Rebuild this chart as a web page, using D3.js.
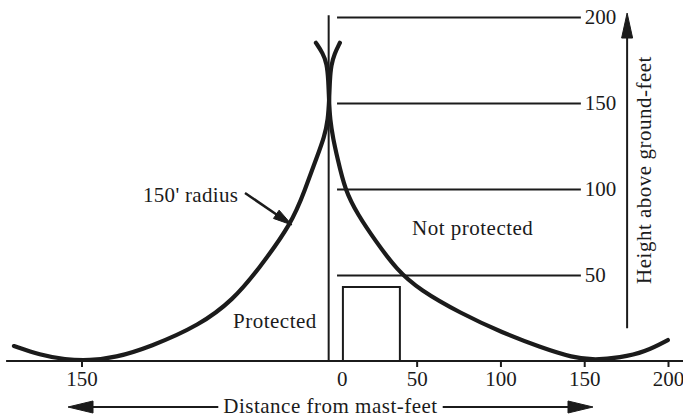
<!DOCTYPE html>
<html><head><meta charset="utf-8">
<script src="https://cdn.jsdelivr.net/npm/d3@7"></script>
<style>
html,body{margin:0;padding:0;background:#fff;}
svg{display:block;}
text{font-family:"Liberation Serif","Times New Roman",serif;}
</style>
</head><body>
<svg id="c" width="683" height="419"></svg>
<script>
// ---- data (feet) ----
const xTickValues = [-150, 0, 50, 100, 150, 200];
const xTickLabels = ["150", "0", "50", "100", "150", "200"];
const heightLevels = [50, 100, 150, 200];
const heightLabels = ["50", "100", "150", "200"];
// arc of the 150' rolling sphere, left side: [distance, height]
const leftArc = [[-190.3,8.7],[-174.8,3.5],[-159.9,0.8],[-145,0.3],[-130.1,1.9],[-109.2,8.1],[-79.3,20.9],[-59.6,35.5],[-44.7,52.9],[-24.4,80.2],[-16.7,99.4],[-9.5,118.6],[-5.0,130.5],[-2.9,140.5],[-2.2,151.7],[-1.8,163.4],[-1.0,172],[0.9,178.5],[4.2,185]];
// right side arc
const rightArc = [[-10.1,185],[-6.0,179],[-3.6,173],[-2.7,163.4],[-2.3,151.7],[-1.7,140.5],[0.2,129],[2.6,118.6],[7.2,99.4],[15.0,84.9],[25.1,70.3],[38.2,52.9],[51.9,41.3],[75.9,27.9],[101.5,16.3],[123.6,8.1],[143.3,1.9],[156.4,0.5],[171.3,1.9],[186.2,5.2],[199.9,12.2]];
const mastX = -2.5, mastTop = 201;
const buildingX = [6, 40];
const buildingHeight = 43;
const heightLineX = [2.5, 148];
const groundX = [-195, 211];
const heightArrow = {x: 175.6, from: 19, to: 202.3};

// ---- scales ----
const x = d3.scaleLinear().domain([-150, 200]).range([81.5, 668]);
const y = d3.scaleLinear().domain([0, 200]).range([361, 17]);

const svg = d3.select("#c");
svg.append("rect").attr("width",683).attr("height",419).attr("fill","#fff");
const ink = "#1b1b1b";
const FS = 21;

// ground line
svg.append("line").attr("x1", x(groundX[0])).attr("x2", x(groundX[1]))
  .attr("y1", y(0)).attr("y2", y(0)).attr("stroke", ink).attr("stroke-width", 2);

// bottom axis ticks + labels
const xAxis = d3.axisBottom(x).tickValues(xTickValues)
  .tickFormat((d,i) => xTickLabels[i]).tickSizeInner(6).tickSizeOuter(0).tickPadding(4);
const gx = svg.append("g").attr("transform", `translate(0,${y(0)})`).call(xAxis);
gx.select(".domain").remove();
gx.selectAll(".tick line").attr("stroke", ink).attr("stroke-width", 2);
gx.selectAll(".tick text").attr("font-size", FS).attr("font-family", "Liberation Serif, serif").attr("fill", ink);
gx.selectAll(".tick").filter(d => d === 0).select("line").remove();
gx.selectAll(".tick").filter(d => d === 0).select("text").attr("dx", 9);

// height reference lines as a right axis
const lineLen = x(heightLineX[1]) - x(heightLineX[0]);
const yAxis = d3.axisRight(y).tickValues(heightLevels)
  .tickFormat((d,i) => heightLabels[i]).tickSizeInner(-lineLen).tickSizeOuter(0).tickPadding(4);
const gy = svg.append("g").attr("transform", `translate(${x(heightLineX[1])},0)`).call(yAxis);
gy.select(".domain").remove();
gy.selectAll(".tick line").attr("stroke", ink).attr("stroke-width", 2);
gy.selectAll(".tick text").attr("font-size", FS).attr("font-family", "Liberation Serif, serif").attr("fill", ink);

// mast
svg.append("line").attr("x1", x(mastX)).attr("x2", x(mastX))
  .attr("y1", y(0)).attr("y2", y(mastTop)).attr("stroke", ink).attr("stroke-width", 2);

// building
svg.append("path")
  .attr("d", d3.line()([[x(buildingX[0]), y(0)], [x(buildingX[0]), y(buildingHeight)], [x(buildingX[1]), y(buildingHeight)], [x(buildingX[1]), y(0)]]))
  .attr("fill", "none").attr("stroke", ink).attr("stroke-width", 2);

// arcs
const arcLine = d3.line().x(d => x(d[0])).y(d => y(d[1])).curve(d3.curveBasis);
[leftArc, rightArc].forEach(a => {
  svg.append("path").attr("d", arcLine(a)).attr("fill", "none")
    .attr("stroke", ink).attr("stroke-width", 4.2).attr("stroke-linecap", "round");
});

// helper: arrow with filled triangular head
function arrow(x1, y1, x2, y2, headLen, headW, sw) {
  const ang = Math.atan2(y2 - y1, x2 - x1);
  const bx = x2 - headLen * Math.cos(ang), by = y2 - headLen * Math.sin(ang);
  svg.append("line").attr("x1", x1).attr("y1", y1).attr("x2", bx + 2*Math.cos(ang)).attr("y2", by + 2*Math.sin(ang))
    .attr("stroke", ink).attr("stroke-width", sw);
  const px = -Math.sin(ang) * headW / 2, py = Math.cos(ang) * headW / 2;
  svg.append("path").attr("d", `M${x2},${y2}L${bx + px},${by + py}L${bx - px},${by - py}Z`)
    .attr("fill", ink).attr("stroke", ink).attr("stroke-width", 1).attr("stroke-linejoin", "round");
}

// vertical height arrow
arrow(x(heightArrow.x), y(heightArrow.from), x(heightArrow.x), y(heightArrow.to), 25, 11, 2);
svg.append("text").attr("transform", `translate(651,170) rotate(-90)`)
  .attr("text-anchor", "middle").attr("font-size", FS).attr("letter-spacing", 0.5).attr("fill", ink)
  .text("Height above ground-feet");

// distance arrow
const dText = svg.append("text").attr("x", 330.5).attr("y", 413).attr("text-anchor", "middle")
  .attr("font-size", FS).attr("letter-spacing", 0.5).attr("fill", ink).text("Distance from mast-feet");
const bb = dText.node().getBBox();
arrow(bb.x - 5, 407, 68, 407, 25, 12, 2);
arrow(bb.x + bb.width + 5, 407, 593, 407, 25, 12, 2);

// annotations
svg.append("text").attr("x", 143).attr("y", 202).attr("font-size", FS).attr("letter-spacing", 0.3).attr("fill", ink).text("150' radius");
arrow(245, 193, 292, 225, 19, 10, 2.5);
svg.append("text").attr("x", 233).attr("y", 328).attr("font-size", FS).attr("letter-spacing", 0.5).attr("fill", ink).text("Protected");
svg.append("text").attr("x", 412).attr("y", 235).attr("font-size", FS).attr("letter-spacing", 0.5).attr("fill", ink).text("Not protected");
</script>
</body></html>
